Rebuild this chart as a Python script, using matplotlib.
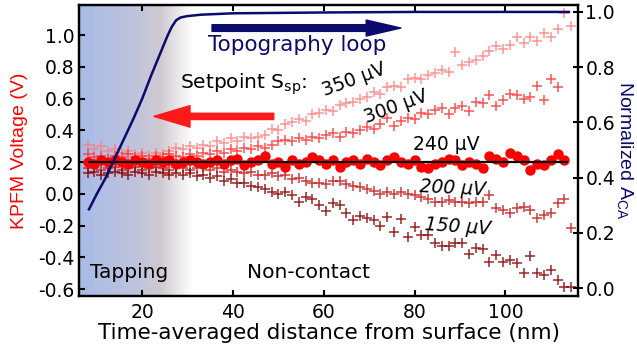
import numpy as np
import matplotlib
matplotlib.use("Agg")
import matplotlib.pyplot as plt
from matplotlib.patches import FancyArrowPatch
from matplotlib.colors import LinearSegmentedColormap
from matplotlib.ticker import FormatStrFormatter

plt.rcParams['font.family'] = ['DejaVu Sans']
plt.rcParams['mathtext.default'] = 'regular'
plt.rcParams['axes.unicode_minus'] = False

# ---------------- data ----------------
distance = [8.0, 9.5, 11.0, 12.5, 14.0, 15.5, 17.0, 18.5, 20.0, 21.5, 23.0, 24.5,
            26.0, 27.5, 29.0, 30.5, 32.0, 33.5, 35.0, 36.5, 38.0, 39.5, 41.0, 42.5,
            44.0, 45.5, 47.0, 48.5, 50.0, 51.5, 53.0, 54.5, 56.0, 57.5, 59.0, 60.5,
            62.0, 63.5, 65.0, 66.5, 68.0, 69.5, 71.0, 72.5, 74.0, 75.5, 77.0, 78.5,
            80.0, 81.5, 83.0, 84.5, 86.0, 87.5, 89.0, 90.5, 92.0, 93.5, 95.0, 96.5,
            98.0, 99.5, 101.0, 102.5, 104.0, 105.5, 107.0, 108.5, 110.0, 111.5, 113.0, 114.5]
nan = float('nan')

v_350 = [0.31, 0.28, 0.30, 0.27, 0.28, 0.26, 0.27, 0.25, 0.26, 0.24, 0.26, 0.25,
         0.27, 0.29, 0.28, 0.30, 0.29, 0.31, 0.30, 0.33, 0.32, 0.35, 0.33, 0.36,
         0.35, 0.36, 0.37, 0.41, 0.40, 0.44, 0.45, 0.47, 0.46, 0.50, 0.51, 0.53,
         0.52, 0.56, 0.57, 0.58, 0.60, 0.61, 0.64, 0.63, 0.67, 0.68, 0.67, 0.72,
         0.73, 0.72, 0.75, 0.76, 0.78, 0.77, 0.89, 0.81, 0.83, 0.84, 0.87, 0.90,
         0.93, 0.91, 0.94, 0.99, 0.95, 0.99, 0.96, 1.01, 0.99, 1.04, 1.14, 1.06]

v_300 = [0.25, 0.23, 0.24, 0.22, 0.24, 0.23, 0.25, 0.23, 0.24, 0.22, 0.24, 0.23,
         0.25, 0.24, 0.23, 0.25, 0.24, 0.26, 0.25, 0.27, 0.26, 0.28, 0.27, 0.29,
         0.28, 0.30, 0.29, 0.31, 0.33, 0.34, 0.33, 0.35, 0.34, 0.36, 0.35, 0.37,
         0.38, 0.36, 0.39, 0.38, 0.40, 0.42, 0.41, 0.44, 0.48, 0.43, 0.46, 0.48,
         0.47, 0.51, 0.50, 0.53, 0.54, 0.50, 0.54, 0.55, 0.52, 0.58, 0.57, 0.62,
         0.55, 0.59, 0.63, 0.62, 0.60, 0.61, 0.68, 0.59, 0.72, 0.67, nan, nan]

v_240 = [0.20, 0.19, 0.21, 0.20, 0.21, 0.20, 0.19, 0.21, 0.20, 0.19, 0.21, 0.20,
         0.21, 0.19, 0.20, 0.21, 0.20, 0.19, 0.20, 0.21, 0.19, 0.21, 0.22, 0.18,
         0.20, 0.21, 0.24, 0.19, 0.20, 0.17, 0.21, 0.19, 0.20, 0.23, 0.21, 0.19,
         0.21, 0.17, 0.20, 0.21, 0.19, 0.22, 0.20, 0.18, 0.21, 0.23, 0.20, 0.19,
         0.21, 0.17, 0.16, 0.19, 0.20, 0.22, 0.21, 0.18, 0.20, 0.19, 0.16, 0.24,
         0.22, 0.20, 0.26, 0.24, 0.21, 0.15, 0.19, 0.18, 0.21, 0.25, 0.21, nan]

v_200 = [0.16, 0.17, 0.15, 0.16, 0.17, 0.15, 0.16, 0.17, 0.15, 0.16, 0.17, 0.16,
         0.15, 0.17, 0.16, 0.15, 0.16, 0.17, 0.15, 0.16, 0.14, 0.15, 0.14, 0.13,
         0.14, 0.12, 0.12, 0.13, 0.11, 0.12, 0.09, 0.10, 0.08, 0.07, 0.07, 0.06,
         0.08, 0.08, 0.06, 0.05, 0.04, 0.03, 0.02, 0.00, 0.01, 0.00, 0.01, 0.00,
         -0.01, -0.02, -0.03, -0.05, -0.05, -0.04, -0.05, -0.05, -0.06, -0.05, -0.05, -0.01,
         -0.09, -0.10, -0.12, -0.09, -0.085, -0.10, -0.15, -0.135, -0.12, -0.06, -0.03, -0.215]

v_150 = [0.13, 0.14, 0.12, 0.13, 0.14, 0.13, 0.12, 0.14, 0.13, 0.12, 0.14, 0.13,
         0.12, 0.13, 0.12, 0.13, 0.11, 0.12, 0.10, 0.11, 0.08, 0.09, 0.07, 0.07,
         0.05, 0.04, 0.03, 0.01, 0.00, 0.01, -0.01, -0.05, -0.02, -0.03, -0.07, -0.11,
         -0.06, -0.07, -0.12, -0.165, -0.14, -0.15, -0.165, -0.20, -0.145, -0.24, -0.16, -0.27,
         -0.21, -0.26, -0.26, -0.31, -0.33, -0.33, -0.31, -0.31, -0.38, -0.34, -0.35, -0.43,
         -0.385, -0.43, -0.42, -0.435, -0.50, -0.39, -0.50, -0.51, -0.48, -0.54, -0.59, -0.59]

ref_level = 0.20
ref_x = [8.2, 113.6]

topo_x = [8.3, 10, 12, 14, 16, 18, 20, 22, 24, 25.5, 26.5, 27.5, 28.5, 30, 33, 40, 60, 80, 100, 114]
topo_y = [0.285, 0.34, 0.40, 0.47, 0.54, 0.61, 0.685, 0.77, 0.85, 0.91, 0.945, 0.97,
          0.98, 0.985, 0.99, 0.995, 0.998, 1.0, 1.0, 1.0]

x_ticks = [20, 40, 60, 80, 100]
left_ticks = [-0.6, -0.4, -0.2, 0.0, 0.2, 0.4, 0.6, 0.8, 1.0]
right_ticks = [0.0, 0.2, 0.4, 0.6, 0.8, 1.0]

# ---------------- styles ----------------
navy = '#0b0b6e'
red = '#ff1a1a'

fig = plt.figure(figsize=(6.37, 3.54), dpi=100)
ax = fig.add_axes([0.124, 0.1638, 0.7834, 0.822])
ax.set_xlim(6.1, 116.0)
ax.set_ylim(-0.644, 1.189)

# background gradient (tapping region)
cmap = LinearSegmentedColormap.from_list(
    'bg', [(0.0, '#a8bbe6'), (0.45, '#bcc3de'), (0.72, '#cfcad1'),
           (0.86, '#e9e6e8'), (1.0, '#ffffff')])
grad = np.linspace(0, 1, 256).reshape(1, -1)
ax.imshow(grad, cmap=cmap, extent=[6.1, 31.0, -0.644, 1.189], aspect='auto',
          zorder=0, interpolation='bicubic')

ms_cross = 7
ax.plot(distance, v_350, '+', color='#ff7a7a', ms=ms_cross, mew=1.1, alpha=0.8, zorder=3)
ax.plot(distance, v_300, '+', color='#ff3535', ms=ms_cross, mew=1.1, alpha=0.85, zorder=3)
ax.plot(distance, v_200, '+', color='#c81818', ms=ms_cross, mew=1.1, alpha=0.85, zorder=3)
ax.plot(distance, v_150, '+', color='#8a0000', ms=ms_cross, mew=1.1, alpha=0.85, zorder=3)
ax.plot(distance, v_240, 'o', color='#ff0000', ms=7.5, mec='none', zorder=4)
ax.plot(ref_x, [ref_level, ref_level], color='black', lw=1.6, zorder=5)

# arrows
ax.add_patch(FancyArrowPatch((35.4, 1.044), (77.0, 1.044),
                             arrowstyle='simple,head_length=25,head_width=11.5,tail_width=4.8',
                             mutation_scale=1, color=navy, shrinkA=0, shrinkB=0, zorder=6))
ax.add_patch(FancyArrowPatch((49.0, 0.4875), (22.6, 0.4875),
                             arrowstyle='simple,head_length=26,head_width=15.5,tail_width=4.5',
                             mutation_scale=1, color=red, shrinkA=0, shrinkB=0, zorder=6))

# text annotations
ax.text(54.2, 0.935, 'Topography loop', color=navy, fontsize=15.5, ha='center', va='center', zorder=7)
ax.text(28.4, 0.665, 'Setpoint S$_{sp}$:', color='black', fontsize=14.5, ha='left',
        va='baseline', zorder=7)
ax.text(66.7, 0.717, '350 μV', fontsize=13.5, rotation=20, ha='center', va='center', zorder=7)
ax.text(76.0, 0.546, '300 μV', fontsize=13.5, rotation=20, ha='center', va='center', zorder=7)
ax.text(86.9, 0.313, '240 μV', fontsize=13.5, ha='center', va='center', zorder=7)
ax.text(88.3, 0.036, '200 μV', fontsize=13.5, style='italic', rotation=-3,
        ha='center', va='center', zorder=7)
ax.text(89.6, -0.21, '150 μV', fontsize=13.5, style='italic', rotation=-4,
        ha='center', va='center', zorder=7)
ax.text(8.5, -0.531, 'Tapping', fontsize=14.5, ha='left', va='baseline', zorder=7)
ax.text(43.1, -0.531, 'Non-contact', fontsize=14.5, ha='left', va='baseline', zorder=7)

# axes styling
ax.set_xticks(x_ticks)
ax.set_yticks(left_ticks)
ax.yaxis.set_major_formatter(FormatStrFormatter('%.1f'))
ax.tick_params(axis='both', direction='in', length=4.5, width=1.5, labelsize=13.5)
ax.tick_params(axis='x', top=True, pad=5)
ax.tick_params(axis='y', pad=3)
for sp in ax.spines.values():
    sp.set_linewidth(1.6)
ax.set_xlabel('Time-averaged distance from surface (nm)', fontsize=15.5, labelpad=1)
ax.set_ylabel('KPFM Voltage (V)', color='#ff0000', fontsize=14, family=['Liberation Sans'])
ax.yaxis.set_label_coords(-0.102, 0.5)

ax2 = ax.twinx()
ax2.set_ylim(-0.029, 1.025)
ax2.plot(topo_x, topo_y, color=navy, lw=1.8, zorder=3)
ax2.set_yticks(right_ticks)
ax2.yaxis.set_major_formatter(FormatStrFormatter('%.1f'))
ax2.tick_params(axis='y', direction='inout', length=6.5, width=1.5, labelsize=13.5, pad=2)
for sp in ax2.spines.values():
    sp.set_linewidth(1.6)
ax2.set_ylabel('Normalized A$_{CA}$', color=navy, fontsize=14, rotation=270, va='bottom',
               family=['Liberation Sans'])
ax2.yaxis.set_label_coords(1.074, 0.5)

fig.savefig('out.png', dpi=100)
